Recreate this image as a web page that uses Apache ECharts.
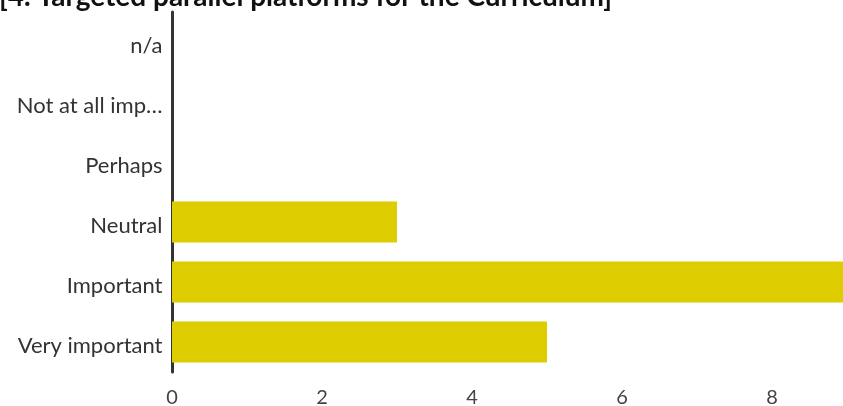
<!DOCTYPE html>
<html>
<head>
<meta charset="utf-8">
<script src="https://cdn.jsdelivr.net/npm/echarts@6/dist/echarts.min.js"></script>
<style>
  html, body { margin: 0; padding: 0; background: #fff; }
  #chart { width: 843px; height: 406px; }
</style>
</head>
<body>
<div id="chart"></div>
<script>
// Response categories, listed bottom to top as the y axis draws them
const categories = ['Very important', 'Important', 'Neutral', 'Perhaps', 'Not at all imp…', 'n/a'];
// Number of responses per category
const counts = [5, 9, 3, 0, 0, 0];
const titleText = '[4. Targeted parallel platforms for the Curriculum]';
const xTicks = [0, 2, 4, 6, 8, 10];

const chart = echarts.init(document.getElementById('chart'), null, { renderer: 'canvas' });
chart.setOption({
  animation: false,
  backgroundColor: '#ffffff',
  // heading sits partly above the top edge of the page
  graphic: [{
    type: 'text',
    x: -1,
    y: -3,
    style: {
      text: titleText,
      font: 'bold 28px Lato',
      fill: '#111',
      align: 'left',
      verticalAlign: 'middle'
    }
  }],
  // the plot runs past the right edge of the page, so the last tick is clipped
  grid: { left: 172, width: 750, top: 12, bottom: 34, containLabel: false, outerBoundsMode: 'none' },
  xAxis: {
    type: 'value',
    min: xTicks[0],
    max: xTicks[xTicks.length - 1],
    interval: 2,
    axisLine: { show: false },
    axisTick: { show: false },
    splitLine: { show: false },
    axisLabel: { fontFamily: 'Lato', fontSize: 20, color: '#444', margin: 16 }
  },
  yAxis: {
    type: 'category',
    data: categories,
    offset: 1.5,
    axisLine: { show: true, lineStyle: { color: '#333', width: 3 } },
    axisTick: { show: false },
    axisLabel: {
      margin: 8,
      formatter: (v) => '{c|' + v + '}',
      rich: { c: { fontFamily: 'Lato', fontSize: 22, color: '#333', padding: [8, 0, 0, 0] } }
    }
  },
  series: [{
    type: 'bar',
    data: counts,
    barCategoryGap: '32%',
    itemStyle: { color: '#dccc00' }
  }]
});
</script>
</body>
</html>
